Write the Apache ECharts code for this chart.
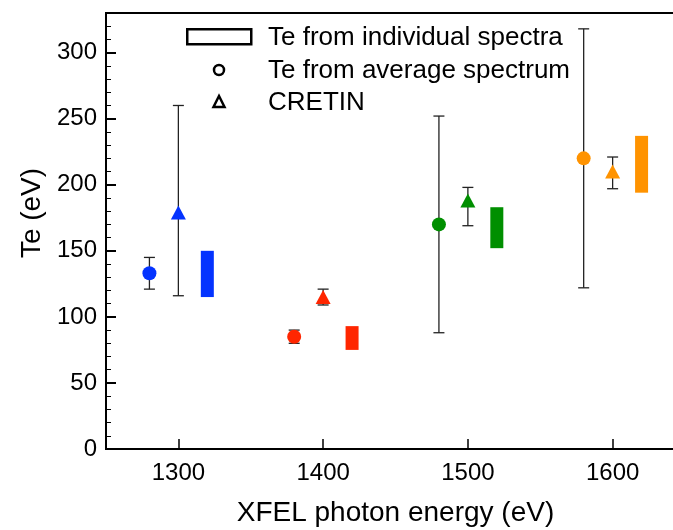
<!DOCTYPE html>
<html>
<head>
<meta charset="utf-8">
<script src="https://cdn.jsdelivr.net/npm/echarts@6/dist/echarts.min.js"></script>
<style>
html,body{margin:0;padding:0;background:#fff;}
#chart{width:673px;height:530px;}
</style>
</head>
<body>
<div id="chart"></div>
<script>
// ---- data ----
const groupColors = ['#0433ff', '#ff2600', '#008f00', '#ff9300'];
// Te from average spectrum (circles)
const avgX = [1280, 1380, 1480, 1580];
const avgTe = [133, 85, 170, 220];
const avgLow = [121, 80, 88, 122];
const avgHigh = [145, 90, 252, 318];
// CRETIN (triangles)
const cretinX = [1300, 1400, 1500, 1600];
const cretinTe = [179, 115, 188, 210];
const cretinLow = [116, 109, 169, 197];
const cretinHigh = [260, 121, 198, 221];
// Te from individual spectra (range bars)
const indivX = [1320, 1420, 1520, 1620];
const indivLow = [115, 75, 152, 194];
const indivHigh = [150, 93, 183, 237];
// axis ticks
const xTicks = [1300, 1400, 1500, 1600];
const legendNames = ['Te from individual spectra', 'Te from average spectrum', 'CRETIN'];

const FONT = '"Liberation Sans", Arial, Helvetica, sans-serif';

const errData = [];
avgX.forEach((x, i) => errData.push([x, avgLow[i], avgHigh[i]]));
cretinX.forEach((x, i) => errData.push([x, cretinLow[i], cretinHigh[i]]));

const chart = echarts.init(document.getElementById('chart'), null, {renderer: 'canvas'});

function errRender(params, api) {
  const x = api.value(0);
  const lo = api.coord([x, api.value(1)]);
  const hi = api.coord([x, api.value(2)]);
  const cap = 5.5;
  const st = {stroke: '#222', lineWidth: 1.3};
  return {
    type: 'group',
    children: [
      {type: 'line', shape: {x1: lo[0], y1: lo[1], x2: hi[0], y2: hi[1]}, style: st},
      {type: 'line', shape: {x1: lo[0] - cap, y1: lo[1], x2: lo[0] + cap, y2: lo[1]}, style: st},
      {type: 'line', shape: {x1: hi[0] - cap, y1: hi[1], x2: hi[0] + cap, y2: hi[1]}, style: st}
    ]
  };
}

function rangeRender(params, api) {
  const x = api.value(0);
  const lo = api.coord([x, api.value(1)]);
  const hi = api.coord([x, api.value(2)]);
  const w = 13;
  return {
    type: 'rect',
    shape: {x: lo[0] - w / 2, y: hi[1], width: w, height: lo[1] - hi[1]},
    style: {fill: groupColors[params.dataIndex]}
  };
}

const option = {
  backgroundColor: '#fff',
  animation: false,
  grid: {left: 106, top: 13, width: 579, height: 436, outerBoundsMode: 'none', containLabel: false,
    show: true, borderColor: '#000', borderWidth: 2, backgroundColor: 'transparent'},
  xAxis: {
    type: 'value', min: 1250, max: 1650,
    name: 'XFEL photon energy (eV)', nameLocation: 'middle', nameGap: 50,
    nameTextStyle: {fontFamily: FONT, fontSize: 28, color: '#000'},
    axisLine: {show: true, lineStyle: {color: '#000', width: 2}},
    axisTick: {show: true, inside: true, length: 10, customValues: xTicks, lineStyle: {color: '#000', width: 1.5}},
    axisLabel: {customValues: xTicks, formatter: v => String(v), margin: 12, fontFamily: FONT, fontSize: 24, color: '#000'},
    splitLine: {show: false}
  },
  yAxis: [{
    type: 'value', min: 0, max: 330, interval: 50,
    name: 'Te (eV)', nameLocation: 'middle', nameGap: 58, nameRotate: 90,
    nameTextStyle: {fontFamily: FONT, fontSize: 28, color: '#000', padding: [0, 0, 0, 36]},
    axisLine: {show: true, lineStyle: {color: '#000', width: 2}},
    axisTick: {show: true, inside: true, length: 10, lineStyle: {color: '#000', width: 2}},
    axisLabel: {showMaxLabel: false, formatter: v => String(v), margin: 9, fontFamily: FONT, fontSize: 24, color: '#000'},
    splitLine: {show: false}
  }, {
    type: 'value', min: 0, max: 330, interval: 10, position: 'left',
    axisLine: {show: false},
    axisTick: {show: true, inside: true, length: 5, lineStyle: {color: '#000', width: 1}},
    axisLabel: {show: false},
    splitLine: {show: false}
  }],
  graphic: [
    {type: 'rect', left: 186, top: 28, shape: {width: 64, height: 15}, style: {fill: '#fff', stroke: '#000', lineWidth: 2.5}},
    {type: 'circle', shape: {cx: 219, cy: 70, r: 5}, style: {fill: '#fff', stroke: '#000', lineWidth: 2.5}},
    {type: 'polygon', shape: {points: [[219, 96], [213.5, 107], [224.5, 107]]}, style: {fill: '#fff', stroke: '#000', lineWidth: 2.5}},
    {type: 'text', left: 268, top: 25, style: {text: legendNames[0], font: '26px ' + FONT, fill: '#000'}},
    {type: 'text', left: 268, top: 58, style: {text: legendNames[1], font: '26px ' + FONT, fill: '#000'}},
    {type: 'text', left: 268, top: 90, style: {text: legendNames[2], font: '26px ' + FONT, fill: '#000'}}
  ],
  series: [
    {type: 'custom', name: 'error bars', renderItem: errRender, data: errData, z: 1, silent: true},
    {type: 'scatter', name: legendNames[1], symbol: 'circle', symbolSize: 14, z: 3,
      data: avgX.map((x, i) => ({value: [x, avgTe[i]], itemStyle: {color: groupColors[i], opacity: 1}}))},
    {type: 'scatter', name: legendNames[2], symbol: 'triangle', symbolSize: [15, 14], z: 3,
      data: cretinX.map((x, i) => ({value: [x, cretinTe[i]], itemStyle: {color: groupColors[i], opacity: 1}}))},
    {type: 'custom', name: legendNames[0], renderItem: rangeRender, z: 2,
      data: indivX.map((x, i) => [x, indivLow[i], indivHigh[i]])}
  ]
};
chart.setOption(option);
</script>
</body>
</html>
